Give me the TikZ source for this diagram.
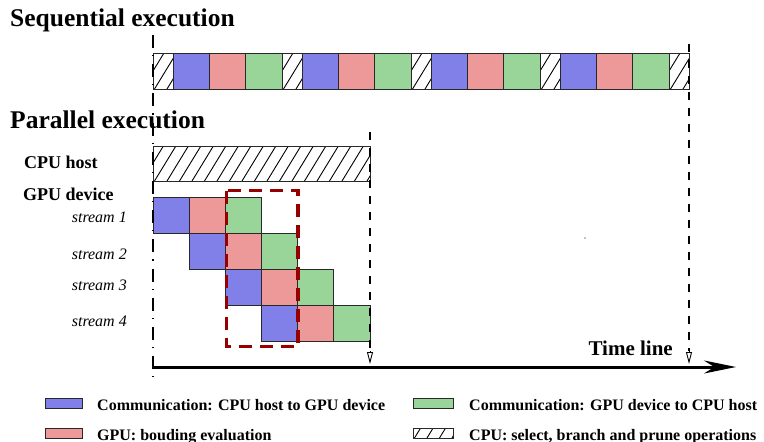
\documentclass[tikz,border=0pt]{standalone}
\usepackage{fontspec}
\setmainfont{Liberation Serif}
\usetikzlibrary{arrows.meta}
\definecolor{cblue}{RGB}{128,128,232}
\definecolor{cred}{RGB}{237,153,153}
\definecolor{cgreen}{RGB}{153,212,153}
\definecolor{boxred}{RGB}{150,0,0}
\definecolor{edge}{RGB}{40,40,40}
\tikzset{
  cell/.style={draw=edge, line width=0.9pt},
  commbox/.style={cell, fill=cblue},
  gpubox/.style={cell, fill=cred},
  backbox/.style={cell, fill=cgreen},
  hatchline/.style={line width=0.9pt, black},
  titletext/.style={anchor=base west, inner sep=0pt, font=\fontsize{25.5}{30}\selectfont\bfseries},
  rowtext/.style={anchor=base west, inner sep=0pt, font=\fontsize{18}{22}\selectfont\bfseries},
  streamtext/.style={anchor=base east, inner sep=0pt, font=\fontsize{16}{20}\selectfont\itshape},
  legendtext/.style={anchor=base west, inner sep=0pt, font=\fontsize{16}{20}\selectfont\bfseries},
  timetext/.style={anchor=base east, inner sep=0pt, font=\fontsize{21}{25}\selectfont\bfseries},
  startline/.style={line width=1.1pt, dash pattern=on 13pt off 7pt on 1.2pt off 8pt},
  endline/.style={line width=2.6pt, dash pattern=on 8pt off 8pt},
  endtip/.style={line width=0.9pt, -{Triangle[open, width=6pt, length=12pt]}},
  axisline/.style={line width=3pt, -{Stealth[length=32pt, width=13pt]}},
  overlapbox/.style={draw=boxred, line width=3.6pt, dash pattern=on 13pt off 8pt}
}
\newcommand{\hatchcell}[4]{%
  \begin{scope}
    \clip (#1,#2) rectangle (#3,#4);
    \foreach \k in {-36,-23.5,...,230} \draw[hatchline] ({#1+\k},#4) -- ++(22,-36);
  \end{scope}
  \draw[cell] (#1,#2) rectangle (#3,#4);
}
\begin{document}
\begin{tikzpicture}[x=1pt, y=-1pt]
\useasboundingbox (0,0) rectangle (764,442);

% titles
\node[titletext] (seqtitle) at (10,26.5) {Sequential execution};
\node[titletext] (partitle) at (10,128) {Parallel execution};

% sequential bar
\def\hw{20.5}
\def\cw{36.17}
\foreach \g in {0,1,2,3} {
  \pgfmathsetmacro{\xa}{153+\g*(\hw+3*\cw)}
  \pgfmathsetmacro{\xb}{\xa+\hw}
  \pgfmathsetmacro{\xc}{\xb+\cw}
  \pgfmathsetmacro{\xd}{\xc+\cw}
  \pgfmathsetmacro{\xe}{\xd+\cw}
  \hatchcell{\xa}{53}{\xb}{89}
  \draw[commbox] (\xb,53) rectangle (\xc,89);
  \draw[gpubox] (\xc,53) rectangle (\xd,89);
  \draw[backbox] (\xd,53) rectangle (\xe,89);
}
\hatchcell{669.04}{53}{689.54}{89}

% parallel: CPU host
\node[rowtext] (cpulabel) at (24,168) {CPU host};
\hatchcell{153}{146}{370}{181}
\node[rowtext] (gpulabel) at (23,200) {GPU device};

% streams
\foreach \r in {0,1,2,3} {
  \pgfmathsetmacro{\ya}{197+36*\r}
  \pgfmathsetmacro{\yb}{\ya+36}
  \pgfmathsetmacro{\xa}{153+\r*\cw}
  \pgfmathsetmacro{\xb}{\xa+\cw}
  \pgfmathsetmacro{\xc}{\xb+\cw}
  \pgfmathsetmacro{\xd}{\xc+\cw}
  \draw[commbox] (\xa,\ya) rectangle (\xb,\yb);
  \draw[gpubox] (\xb,\ya) rectangle (\xc,\yb);
  \draw[backbox] (\xc,\ya) rectangle (\xd,\yb);
}
\node[streamtext] (s1) at (127,222) {stream 1};
\node[streamtext] (s2) at (127,259) {stream 2};
\node[streamtext] (s3) at (127,290) {stream 3};
\node[streamtext] (s4) at (127,326) {stream 4};

% overlap box
\draw[overlapbox] (226.5,190.5) rectangle (298,346.5);

% time markers
\coordinate (L0) at (153,35);
\coordinate (L1) at (153,377);
\draw[startline] (L0) -- (L1);

\coordinate (M0) at (370,132);
\coordinate (M1) at (370,351);
\coordinate (M2) at (370,364);
\draw[endline] (M0) -- (M1);
\draw[endtip] (M1) -- (M2);

\coordinate (R0) at (689,44);
\coordinate (R1) at (689,351);
\coordinate (R2) at (689,364);
\draw[endline] (R0) -- (R1);
\draw[endtip] (R1) -- (R2);

% axis
\coordinate (A0) at (153,367);
\coordinate (A1) at (736,367);
\draw[axisline] (A0) -- (A1);
\node[timetext] (timelabel) at (673,355) {Time line};

% stray dot
\fill (585,238) circle (0.6);

% legend
\draw[commbox] (45,398) rectangle (82,408);
\node[legendtext] (lg1) at (97,410) {Communication: CPU host to GPU device};
\draw[gpubox] (45,428) rectangle (82,438);
\node[legendtext] (lg2) at (97,440) {GPU: bouding evaluation};
\draw[backbox] (413,398) rectangle (453,408);
\node[legendtext] (lg3) at (469,410) {Communication: GPU device to CPU host};
\hatchcell{413}{428}{453}{438}
\node[legendtext] (lg4) at (469,440) {CPU: select, branch and prune operations};
\end{tikzpicture}
\end{document}
